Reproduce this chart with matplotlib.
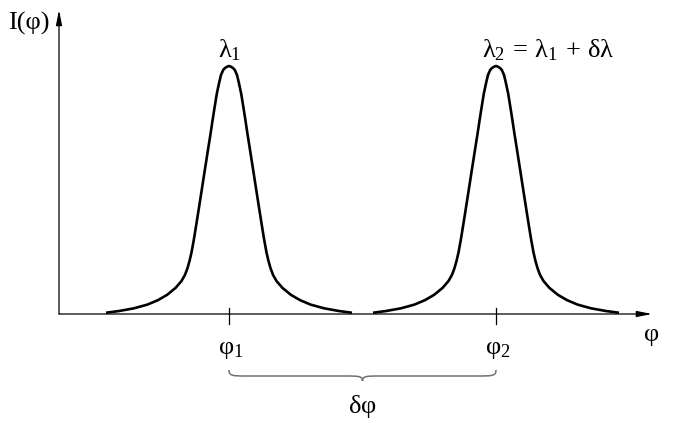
import numpy as np
import matplotlib
matplotlib.use("Agg")
import matplotlib.pyplot as plt
from matplotlib.path import Path
from matplotlib.patches import PathPatch

plt.rcParams['font.family'] = ['Liberation Serif', 'DejaVu Serif']
plt.rcParams['mathtext.fontset'] = 'custom'
plt.rcParams['mathtext.rm'] = 'Liberation Serif'
plt.rcParams['mathtext.it'] = 'Liberation Serif'
plt.rcParams['mathtext.bf'] = 'Liberation Serif'

# ---- data ----
peak_centers = [170, 437]          # phi positions of the two lines
peak_labels = [r'$\mathrm{λ}_1$', r'$\mathrm{λ}_2\,=\,\mathrm{λ}_1\,+\,\mathrm{δλ}$']
tick_labels = [r'$\mathrm{φ}_1$', r'$\mathrm{φ}_2$']
# line profile: offset from centre and relative intensity (one half, mirrored)
profile_dx = [0, 2, 4, 5.8, 8, 10, 12.2, 14.3, 16.4, 18.4, 20.5, 22.6, 24.7,
              27.0, 29.6, 32.3, 34.9, 37.4, 39.4, 41.5, 44, 47.5, 53.5, 62,
              71, 81.5, 95, 110, 123]
profile_I = [1.0, 0.997, 0.992, 0.984, 0.964, 0.930, 0.888, 0.836, 0.782,
             0.728, 0.675, 0.621, 0.567, 0.507, 0.44, 0.371, 0.306, 0.25,
             0.215, 0.185, 0.158, 0.133, 0.105, 0.077, 0.056, 0.038, 0.023,
             0.012, 0.005]
x_axis_end = 593
y_axis_end = 1.226

fig = plt.figure(figsize=(6.8, 4.23), dpi=100)
ax = fig.add_axes([0, 0, 1, 1])
ax.set_xlim(-59, 621)
ax.set_ylim(-109 / 248, (423 - 109) / 248)
ax.axis('off')

dx = np.array(profile_dx, dtype=float)
I = np.array(profile_I, dtype=float)
full_dx = np.concatenate([-dx[::-1], dx[1:]])
full_I = np.concatenate([I[::-1], I[1:]])

for c in peak_centers:
    ax.plot(c + full_dx, full_I, color='black', lw=1.9, solid_capstyle='butt',
            solid_joinstyle='round', zorder=3)

# axes with arrows
arrow_kw = dict(arrowstyle='-|>,head_length=0.9,head_width=0.18', color='black',
                lw=0.9, shrinkA=0, shrinkB=0)
ax.annotate('', xy=(x_axis_end, 0), xytext=(0, 0), arrowprops=arrow_kw)
ax.annotate('', xy=(0, y_axis_end), xytext=(0, 0), arrowprops=arrow_kw)

FS = 19
# ticks at the peak positions
for c, lab in zip(peak_centers, tick_labels):
    ax.plot([c, c], [0.024, -0.04], color='black', lw=0.9)
    ax.text(c + 2, -0.145, lab, ha='center', va='center', fontsize=FS)

# peak labels
ax.text(peak_centers[0] + 1, 1.065, peak_labels[0], ha='center', va='center', fontsize=FS)
ax.text(peak_centers[1] + 52, 1.065, peak_labels[1], ha='center', va='center', fontsize=FS)

# axis labels
ax.text(x_axis_end, -0.085, 'φ', ha='center', va='center', fontsize=FS)
ax.text(-30, 1.17, 'I(φ)', ha='center', va='center', fontsize=FS)

# curly brace between the two peaks
x0, x1 = peak_centers
xm = (x0 + x1) / 2
yt = -(370 - 314) / 248
yl = -(376 - 314) / 248
yb = -(381 - 314) / 248
r = 18
verts = [(x0, yt), (x0, yl), (x0 + r * 0.2, yl), (x0 + r, yl),
         (xm - r, yl),
         (xm - r * 0.2, yl), (xm, yl), (xm, yb),
         (xm, yl), (xm + r * 0.2, yl), (xm + r, yl),
         (x1 - r, yl),
         (x1 - r * 0.2, yl), (x1, yl), (x1, yt)]
codes = [Path.MOVETO, Path.CURVE4, Path.CURVE4, Path.CURVE4,
         Path.LINETO,
         Path.CURVE4, Path.CURVE4, Path.CURVE4,
         Path.CURVE4, Path.CURVE4, Path.CURVE4,
         Path.LINETO,
         Path.CURVE4, Path.CURVE4, Path.CURVE4]
ax.add_patch(PathPatch(Path(verts, codes), fill=False, edgecolor='#707070', lw=1.1))
ax.text(xm, -(406 - 314) / 248, r'$\mathrm{δφ}$', ha='center', va='center', fontsize=FS)

fig.savefig('out.png', dpi=100)
